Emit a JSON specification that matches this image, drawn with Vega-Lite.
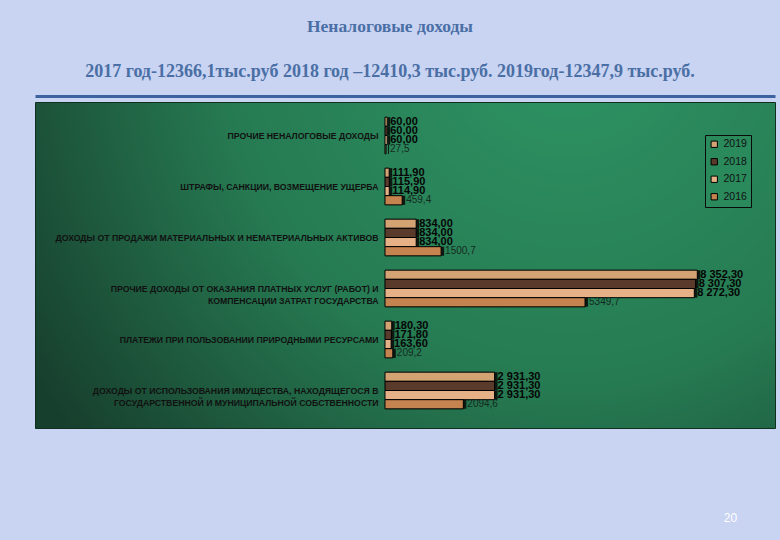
{
  "$schema": "https://vega.github.io/schema/vega-lite/v6.json",
  "width": 740,
  "height": 326,
  "autosize": {"type": "none"},
  "padding": {"left": 35, "top": 102, "right": 5, "bottom": 112},
  "background": "#c9d3f2",
  "title": {
    "text": "Неналоговые доходы",
    "subtitle": "2017 год-12366,1тыс.руб  2018 год –12410,3 тыс.руб. 2019год-12347,9 тыс.руб.",
    "anchor": "middle",
    "frame": "group",
    "dx": -15,
    "offset": 15,
    "font": "Liberation Serif",
    "fontSize": 17.5,
    "fontWeight": "bold",
    "color": "#4a6fa5",
    "subtitleFont": "Liberation Serif",
    "subtitleFontSize": 18,
    "subtitleFontWeight": "bold",
    "subtitleColor": "#4a6fa5",
    "subtitlePadding": 28
  },
  "config": {
    "view": {
      "fill": {
        "gradient": "radial",
        "x1": 0.72, "y1": 0.2, "r1": 0,
        "x2": 0.72, "y2": 0.2, "r2": 0.85,
        "stops": [
          {"offset": 0, "color": "#2e9464"},
          {"offset": 0.55, "color": "#267a52"},
          {"offset": 1, "color": "#173f2d"}
        ]
      },
      "stroke": "#10301f",
      "strokeWidth": 1
    }
  },
  "data": {
    "values": [
      {"cat": "ПРОЧИЕ НЕНАЛОГОВЫЕ ДОХОДЫ", "year": "2019", "value": 60.0, "label": "60,00"},
      {"cat": "ПРОЧИЕ НЕНАЛОГОВЫЕ ДОХОДЫ", "year": "2018", "value": 60.0, "label": "60,00"},
      {"cat": "ПРОЧИЕ НЕНАЛОГОВЫЕ ДОХОДЫ", "year": "2017", "value": 60.0, "label": "60,00"},
      {"cat": "ПРОЧИЕ НЕНАЛОГОВЫЕ ДОХОДЫ", "year": "2016", "value": 27.5, "label": "27,5"},
      {"cat": "ШТРАФЫ, САНКЦИИ, ВОЗМЕЩЕНИЕ УЩЕРБА", "year": "2019", "value": 111.9, "label": "111,90"},
      {"cat": "ШТРАФЫ, САНКЦИИ, ВОЗМЕЩЕНИЕ УЩЕРБА", "year": "2018", "value": 115.9, "label": "115,90"},
      {"cat": "ШТРАФЫ, САНКЦИИ, ВОЗМЕЩЕНИЕ УЩЕРБА", "year": "2017", "value": 114.9, "label": "114,90"},
      {"cat": "ШТРАФЫ, САНКЦИИ, ВОЗМЕЩЕНИЕ УЩЕРБА", "year": "2016", "value": 459.4, "label": "459,4"},
      {"cat": "ДОХОДЫ ОТ ПРОДАЖИ МАТЕРИАЛЬНЫХ И НЕМАТЕРИАЛЬНЫХ АКТИВОВ", "year": "2019", "value": 834.0, "label": "834,00"},
      {"cat": "ДОХОДЫ ОТ ПРОДАЖИ МАТЕРИАЛЬНЫХ И НЕМАТЕРИАЛЬНЫХ АКТИВОВ", "year": "2018", "value": 834.0, "label": "834,00"},
      {"cat": "ДОХОДЫ ОТ ПРОДАЖИ МАТЕРИАЛЬНЫХ И НЕМАТЕРИАЛЬНЫХ АКТИВОВ", "year": "2017", "value": 834.0, "label": "834,00"},
      {"cat": "ДОХОДЫ ОТ ПРОДАЖИ МАТЕРИАЛЬНЫХ И НЕМАТЕРИАЛЬНЫХ АКТИВОВ", "year": "2016", "value": 1500.7, "label": "1500,7"},
      {"cat": "ПРОЧИЕ ДОХОДЫ ОТ ОКАЗАНИЯ ПЛАТНЫХ УСЛУГ (РАБОТ) И|КОМПЕНСАЦИИ ЗАТРАТ ГОСУДАРСТВА", "year": "2019", "value": 8352.3, "label": "8 352,30"},
      {"cat": "ПРОЧИЕ ДОХОДЫ ОТ ОКАЗАНИЯ ПЛАТНЫХ УСЛУГ (РАБОТ) И|КОМПЕНСАЦИИ ЗАТРАТ ГОСУДАРСТВА", "year": "2018", "value": 8307.3, "label": "8 307,30"},
      {"cat": "ПРОЧИЕ ДОХОДЫ ОТ ОКАЗАНИЯ ПЛАТНЫХ УСЛУГ (РАБОТ) И|КОМПЕНСАЦИИ ЗАТРАТ ГОСУДАРСТВА", "year": "2017", "value": 8272.3, "label": "8 272,30"},
      {"cat": "ПРОЧИЕ ДОХОДЫ ОТ ОКАЗАНИЯ ПЛАТНЫХ УСЛУГ (РАБОТ) И|КОМПЕНСАЦИИ ЗАТРАТ ГОСУДАРСТВА", "year": "2016", "value": 5349.7, "label": "5349,7"},
      {"cat": "ПЛАТЕЖИ ПРИ ПОЛЬЗОВАНИИ ПРИРОДНЫМИ РЕСУРСАМИ", "year": "2019", "value": 180.3, "label": "180,30"},
      {"cat": "ПЛАТЕЖИ ПРИ ПОЛЬЗОВАНИИ ПРИРОДНЫМИ РЕСУРСАМИ", "year": "2018", "value": 171.8, "label": "171,80"},
      {"cat": "ПЛАТЕЖИ ПРИ ПОЛЬЗОВАНИИ ПРИРОДНЫМИ РЕСУРСАМИ", "year": "2017", "value": 163.6, "label": "163,60"},
      {"cat": "ПЛАТЕЖИ ПРИ ПОЛЬЗОВАНИИ ПРИРОДНЫМИ РЕСУРСАМИ", "year": "2016", "value": 209.2, "label": "209,2"},
      {"cat": "ДОХОДЫ ОТ ИСПОЛЬЗОВАНИЯ ИМУЩЕСТВА, НАХОДЯЩЕГОСЯ В|ГОСУДАРСТВЕННОЙ И МУНИЦИПАЛЬНОЙ СОБСТВЕННОСТИ", "year": "2019", "value": 2931.3, "label": "2 931,30"},
      {"cat": "ДОХОДЫ ОТ ИСПОЛЬЗОВАНИЯ ИМУЩЕСТВА, НАХОДЯЩЕГОСЯ В|ГОСУДАРСТВЕННОЙ И МУНИЦИПАЛЬНОЙ СОБСТВЕННОСТИ", "year": "2018", "value": 2931.3, "label": "2 931,30"},
      {"cat": "ДОХОДЫ ОТ ИСПОЛЬЗОВАНИЯ ИМУЩЕСТВА, НАХОДЯЩЕГОСЯ В|ГОСУДАРСТВЕННОЙ И МУНИЦИПАЛЬНОЙ СОБСТВЕННОСТИ", "year": "2017", "value": 2931.3, "label": "2 931,30"},
      {"cat": "ДОХОДЫ ОТ ИСПОЛЬЗОВАНИЯ ИМУЩЕСТВА, НАХОДЯЩЕГОСЯ В|ГОСУДАРСТВЕННОЙ И МУНИЦИПАЛЬНОЙ СОБСТВЕННОСТИ", "year": "2016", "value": 2094.6, "label": "2094,6"}
    ]
  },
  "encoding": {
    "y": {
      "field": "cat",
      "type": "nominal",
      "sort": null,
      "scale": {"range": [8, 314], "paddingInner": 0.28, "paddingOuter": 0.14},
      "axis": {
        "orient": "left",
        "offset": -347,
        "labelPadding": 4,
        "ticks": false,
        "domain": false,
        "grid": false,
        "labelExpr": "split(datum.label, '|')",
        "labelFont": "Liberation Sans",
        "labelFontSize": 8.7,
        "labelFontWeight": "bold",
        "labelColor": "#111111",
        "labelLimit": 400,
        "labelLineHeight": 12,
        "title": "20",
        "titleAngle": 0,
        "titleX": 348,
        "titleY": 415,
        "titleAlign": "center",
        "titleBaseline": "middle",
        "titleColor": "#ffffff",
        "titleFont": "Liberation Sans",
        "titleFontSize": 12,
        "titleFontWeight": "normal"
      }
    },
    "yOffset": {
      "field": "year",
      "type": "nominal",
      "sort": ["2019", "2018", "2017", "2016"],
      "scale": {"paddingInner": 0, "paddingOuter": 0}
    },
    "x": {
      "field": "value",
      "type": "quantitative",
      "scale": {"domain": [-9360, 10430], "nice": false, "zero": false},
      "axis": {
        "orient": "top",
        "offset": 6,
        "domainColor": "#3c63a0",
        "domainWidth": 3,
        "labels": false,
        "ticks": false,
        "grid": false,
        "title": null
      }
    }
  },
  "layer": [
    {
      "mark": {"type": "bar", "fill": "#0b1a12", "xOffset": 3, "yOffset": 2, "x2Offset": 3, "y2Offset": 2},
      "encoding": {"x2": {"datum": 0}}
    },
    {
      "mark": {"type": "bar", "stroke": "#000000", "strokeWidth": 1},
      "encoding": {
        "x2": {"datum": 0},
        "color": {
          "field": "year",
          "type": "nominal",
          "sort": ["2019", "2018", "2017", "2016"],
          "scale": {"domain": ["2019", "2018", "2017", "2016"], "range": ["#d4a373", "#5a3a2a", "#e6b187", "#c5844f"]},
          "legend": {
            "title": null,
            "orient": "none",
            "legendX": 670,
            "legendY": 33,
            "symbolType": "square",
            "symbolSize": 40,
            "symbolStrokeColor": "#000000",
            "symbolStrokeWidth": 1,
            "labelFont": "Liberation Sans",
            "labelFontSize": 10.5,
            "labelColor": "#111111",
            "rowPadding": 6.5,
            "padding": 4,
            "strokeColor": "#0a0a0a",
            "fillColor": "#2a8a5c"
          }
        }
      }
    },
    {
      "transform": [{"filter": "datum.year != '2016'"}],
      "mark": {"type": "text", "align": "left", "baseline": "middle", "dx": 3, "font": "Liberation Sans", "fontSize": 11, "fontWeight": "bold", "color": "#050505"},
      "encoding": {"text": {"field": "label", "type": "nominal"}}
    },
    {
      "transform": [{"filter": "datum.year == '2016'"}],
      "mark": {"type": "text", "align": "left", "baseline": "middle", "dx": 4, "font": "Liberation Sans", "fontSize": 10, "color": "#142a20"},
      "encoding": {"text": {"field": "label", "type": "nominal"}}
    }
  ]
}
